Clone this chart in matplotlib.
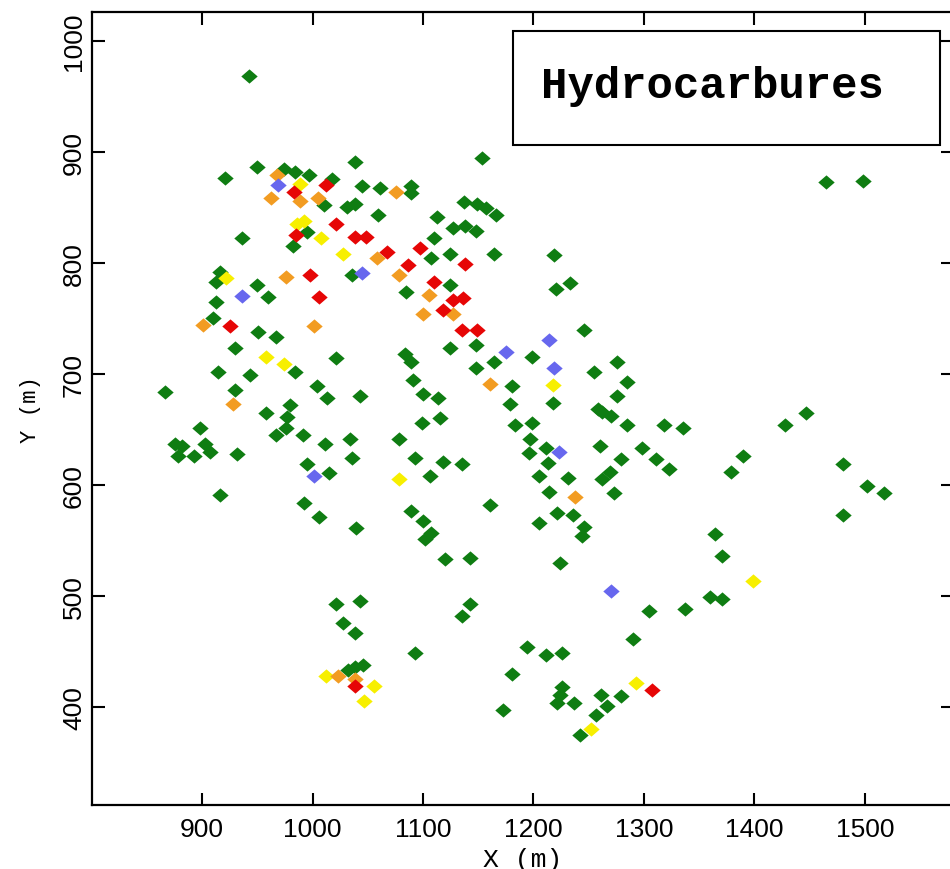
"""
Carte des sondages : hydrocarbures, positions X/Y en metres.
"""

import matplotlib
matplotlib.use("Agg")
import matplotlib.pyplot as plt
from matplotlib.patches import Rectangle


# ── sondages par classe de teneur ──────────────────────────────
green_x = [942, 1465, 1498, 921, 950, 974, 984, 997, 1010, 1018, 1038, 1153,
           1045, 1061, 1089, 1089, 1031, 1038, 1059, 1137, 1149, 1157, 1166,
           1113, 1127, 1138, 1148, 1110, 1107, 1124, 1164, 995, 982, 936,
           916, 913, 950, 960, 913, 910, 951, 967, 1036, 1124, 1085,
           1219, 1233, 1220, 1246, 930, 984, 1021, 914, 943,
           866, 930, 1004, 1013, 1043, 980, 977, 958, 976, 967, 991,
           1011, 1034, 1036, 995, 1015, 898, 875, 882, 878, 893, 903, 907, 932,
           916, 992, 1006, 1039, 1078, 1093, 1118, 1135, 1106,
           1089, 1100, 1107, 1102, 1161, 1084, 1089, 1124, 1148, 1164, 1148,
           1091, 1100, 1114, 1099, 1115, 1199, 1181, 1179, 1218,
           1255, 1276, 1285, 1276, 1262, 1258, 1270, 1285, 1318, 1335,
           1183, 1199, 1197, 1211, 1196, 1260, 1298, 1279, 1311, 1323,
           1213, 1205, 1231, 1269, 1262, 1273, 1214,
           1205, 1221, 1236, 1246, 1244, 1120, 1143, 1224,
           1428, 1447, 1390, 1379, 1480, 1502, 1517, 1480,
           1364, 1371, 1360, 1371, 1337, 1305, 1143, 1135, 1290,
           1093, 1194, 1211, 1226, 1181, 1226, 1224, 1261, 1279, 1221, 1237, 1267,
           1172, 1257, 1242, 1021, 1043, 1028, 1038, 1038, 1046, 1032]
green_y = [968, 873, 874, 876, 886, 884, 882, 879, 852, 875, 891, 894,
           869, 867, 869, 863, 850, 853, 843, 855, 853, 849, 843,
           841, 831, 833, 829, 822, 804, 808, 808, 828, 815, 822,
           792, 783, 780, 769, 765, 750, 738, 733, 789, 780, 774,
           807, 782, 776, 739, 723, 702, 714, 702, 699,
           684, 685, 689, 678, 680, 672, 661, 665, 651, 645, 645,
           637, 641, 624, 619, 611, 651, 637, 635, 626, 626, 637, 630, 628,
           591, 584, 571, 561, 641, 624, 621, 619, 608,
           576, 567, 557, 551, 582, 718, 711, 723, 726, 711, 705,
           694, 682, 678, 656, 660, 715, 689, 673, 674,
           702, 711, 693, 680, 666, 668, 662, 654, 654, 651,
           654, 656, 641, 633, 629, 635, 633, 623, 623, 614,
           620, 608, 606, 612, 605, 593, 594,
           566, 575, 573, 562, 554, 533, 534, 530,
           654, 665, 626, 612, 619, 599, 593, 573,
           556, 536, 499, 497, 488, 486, 493, 482, 461,
           449, 454, 447, 449, 430, 418, 411, 411, 410, 404, 404, 401,
           397, 393, 375, 493, 495, 476, 467, 436, 438, 433]

red_x = [983, 1012, 1021, 985, 998, 1006, 925, 1038, 1048, 1097, 1067, 1086,
         1138, 1110, 1127, 1136, 1118, 1135, 1149, 1038, 1307]
red_y = [864, 870, 835, 825, 789, 769, 743, 823, 823, 813, 810, 798,
         799, 783, 766, 768, 757, 739, 739, 419, 415]

orange_x = [968, 962, 989, 1005, 1076, 976, 901, 1001, 928, 1058, 1078, 1105,
            1100, 1127, 1161, 1238, 1023, 1038]
orange_y = [879, 858, 856, 858, 864, 787, 744, 743, 673, 804, 789, 771,
            754, 754, 691, 589, 428, 425]

yellow_x = [989, 986, 992, 1008, 922, 1028, 958, 974, 1218, 1078, 1399,
            1012, 1056, 1047, 1293, 1252]
yellow_y = [871, 835, 838, 822, 786, 808, 715, 709, 690, 605, 513,
            428, 419, 405, 422, 380]

blue_x = [969, 936, 1045, 1001, 1214, 1175, 1219, 1223, 1270]
blue_y = [870, 770, 791, 608, 730, 720, 705, 630, 504]

x_ticks = [900, 1000, 1100, 1200, 1300, 1400, 1500]
y_ticks = [400, 500, 600, 700, 800, 900, 1000]

title = "Hydrocarbures"

# losange un peu plus large que haut
diamond = [(-1.0, 0.0), (0.0, 0.87), (1.0, 0.0), (0.0, -0.87), (-1.0, 0.0)]

series = [
    (green_x, green_y, "#0f7d12"),
    (yellow_x, yellow_y, "#f7ef00"),
    (orange_x, orange_y, "#f29c22"),
    (red_x, red_y, "#e60606"),
    (blue_x, blue_y, "#6767ee"),
]

tick_font = {"family": "Liberation Sans", "size": 19}

fig = plt.figure(figsize=(9.5, 8.7), dpi=100)
ax = fig.add_axes([0.0965, 0.0739, 0.9068, 0.9115])

for xs, ys, col in series:
    ax.plot(xs, ys, linestyle="none", marker=diamond, markersize=11.8,
            markerfacecolor=col, markeredgewidth=0)

ax.set_xlim(800, 1580)
ax.set_ylim(312, 1026)
ax.set_xticks(x_ticks)
ax.set_yticks(y_ticks)
ax.set_xticklabels([str(v) for v in x_ticks], fontdict=tick_font)
ax.set_yticklabels([str(v) for v in y_ticks], fontdict=tick_font,
                   rotation=90, va="center")

ax.tick_params(direction="in", length=9, width=1.5, top=True, right=True)
ax.tick_params(axis="x", pad=9)
ax.tick_params(axis="y", pad=4)
for sp in ax.spines.values():
    sp.set_linewidth(1.6)

ax.set_xlabel("X (m)", family="Liberation Mono", size=19, labelpad=4)
ax.set_ylabel("Y (m)", family="Liberation Mono", size=16, labelpad=15)

# cartouche du titre
ax.add_patch(Rectangle((0.4895, 0.8323), 0.4954, 0.1437,
                       transform=ax.transAxes, fill=False,
                       edgecolor="black", linewidth=1.5, zorder=5))
ax.text(0.7208, 0.8924, title, transform=ax.transAxes, ha="center",
        va="baseline", fontsize=31.7, fontweight="bold",
        family="Liberation Mono", zorder=6)

fig.savefig("out.png", dpi=100)
plt.close(fig)
